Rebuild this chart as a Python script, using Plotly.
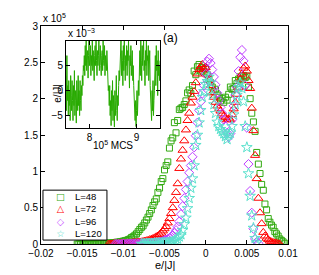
import plotly.graph_objects as go

# ---------------- data (main panel: histograms, y in units of 1e5) -------------
bin_width = 0.0002

l48_start = -0.0156
l48_counts = [
    0.00, 0.00, 0.00, 0.00, 0.00, 0.00, 0.00, 0.00, 0.00, 0.00,
    0.005, 0.00, 0.005, 0.005, 0.005, 0.01, 0.005, 0.01, 0.01, 0.01,
    0.015, 0.015, 0.02, 0.02, 0.025, 0.025, 0.03, 0.035, 0.04, 0.045,
    0.05, 0.06, 0.07, 0.09, 0.10, 0.12, 0.14, 0.17, 0.20, 0.23,
    0.25, 0.29, 0.33, 0.37, 0.42, 0.47, 0.53, 0.58, 0.62, 0.71,
    0.77, 0.86, 0.90, 1.02, 1.08, 1.13, 1.32, 1.42, 1.46, 1.67,
    1.53, 1.70, 1.85, 1.87, 1.88, 1.92, 1.97, 2.08, 2.12, 2.07,
    2.18, 2.38, 2.33, 2.44, 2.47, 2.38, 2.43, 2.37, 2.41, 2.33,
    2.28, 2.22, 2.16, 2.10, 2.13, 2.05, 2.02, 1.97, 2.00, 1.95,
    2.02, 1.98, 2.06, 2.16, 2.13, 2.14, 2.25, 2.21, 2.27, 2.30,
    2.26, 2.32, 2.29, 2.31, 2.16, 2.00, 1.80, 1.68, 1.55, 1.26,
    1.10, 0.97, 0.82, 0.74, 0.55, 0.47, 0.35, 0.30, 0.26, 0.23,
    0.17, 0.14, 0.11, 0.07, 0.05, 0.03, 0.01,
]

l72_start = -0.0118
l72_counts = [
    0.00, 0.00, 0.00, 0.005, 0.005, 0.005, 0.005, 0.01, 0.01, 0.01,
    0.01, 0.01, 0.015, 0.015, 0.015, 0.02, 0.02, 0.02, 0.025, 0.025,
    0.03, 0.035, 0.04, 0.045, 0.05, 0.06, 0.065, 0.075, 0.085, 0.10,
    0.11, 0.13, 0.15, 0.18, 0.21, 0.24, 0.29, 0.35, 0.42, 0.50,
    0.60, 0.71, 0.83, 1.04, 1.17, 1.29, 1.42, 1.57, 1.70, 1.80,
    1.94, 2.02, 2.10, 2.22, 2.34, 2.40, 2.44, 2.47, 2.41, 2.43,
    2.33, 2.25, 2.18, 2.08, 2.02, 1.95, 1.90, 1.86, 1.83, 1.79,
    1.76, 1.74, 1.71, 1.72, 1.71, 1.78, 1.86, 1.95, 2.06, 2.15,
    2.27, 2.34, 2.42, 2.45, 2.38, 2.25, 2.14, 1.87, 1.56, 1.22,
    0.90, 0.63, 0.43, 0.28, 0.16, 0.11, 0.08, 0.06, 0.04, 0.03,
    0.02, 0.015, 0.01, 0.005, 0.00,
]

l96_start = -0.0110
l96_counts = [
    0.00, 0.00, 0.00, 0.00, 0.00, 0.005, 0.00, 0.005, 0.005, 0.005,
    0.005, 0.005, 0.005, 0.01, 0.005, 0.01, 0.01, 0.01, 0.01, 0.01,
    0.015, 0.015, 0.015, 0.02, 0.02, 0.02, 0.025, 0.03, 0.035, 0.04,
    0.05, 0.06, 0.07, 0.08, 0.10, 0.12, 0.15, 0.19, 0.24, 0.31,
    0.41, 0.52, 0.63, 0.75, 0.86, 0.98, 1.08, 1.20, 1.33, 1.49,
    1.67, 1.84, 1.96, 2.07, 2.18, 2.34, 2.51, 2.55, 2.49, 2.40,
    2.30, 2.19, 2.08, 1.98, 1.88, 1.80, 1.71, 1.62, 1.53, 1.47,
    1.52, 1.71, 1.90, 2.05, 2.16, 2.38, 2.57, 2.67, 2.52, 2.18,
    1.60, 1.10, 0.73, 0.43, 0.21, 0.07, 0.03, 0.01,
]

l120_start = -0.0078
l120_counts = [
    0.00, 0.00, 0.00, 0.005, 0.005, 0.005, 0.005, 0.005, 0.01, 0.01,
    0.01, 0.01, 0.01, 0.015, 0.015, 0.015, 0.02, 0.02, 0.025, 0.03,
    0.04, 0.05, 0.07, 0.10, 0.13, 0.19, 0.27, 0.36, 0.49, 0.63,
    0.77, 0.90, 1.08, 1.36, 1.50, 1.67, 1.84, 2.02, 2.10, 2.20,
    2.24, 2.30, 2.22, 2.05, 1.92, 1.80, 1.68, 1.62, 1.58, 1.55,
    1.52, 1.48, 1.44, 1.50, 1.53, 1.62, 1.78, 1.92, 2.05, 2.16,
    2.22, 2.14, 1.96, 1.62, 1.33, 0.97, 0.66, 0.39, 0.22, 0.08,
    0.02,
]

series_names = ["L=48", "L=72", "L=96", "L=120"]

x_tick_vals = [-0.02, -0.015, -0.01, -0.005, 0, 0.005, 0.01]
x_tick_text = ["\u22120.02", "\u22120.015", "\u22120.01", "\u22120.005", "0", "0.005", "0.01"]
y_tick_vals = [0, 0.5, 1, 1.5, 2, 2.5, 3]
y_tick_text = ["0", "0.5", "1", "1.5", "2", "2.5", "3"]

# ---------------- data (inset: time series, e/|J| in units of 1e-3) -------------
inset_t_start = 7.5     # 10^5 MCS
inset_t_step = 0.01
inset_e = [
    3, -4, 7, -2, 1, -5, 2, -3, 0, -6, 3, -1, -4, 2, -2, -6, 1, -3, 4, -5,
    0, -2, -6.5, 2, -1, -4, 3, -3, 0, -5, 2, -2, -4, 1, -1,
    3, 1, 5, 4,
    7, 3, 9, 5, 10, 4, 6, 8, 2.5, 7, 10, 5, 6, 9, 3, 7, 5, 10, 4, 8,
    6, 2, 7, 9, 5, 10, 6, 3, 8, 5, 7, 10, 4, 6, 9, 5, 3, 7, 8, 4,
    10, 6, 5, 9, 3, 7, 6, 4, 8,
    3, 5, 0, 1,
    -3, 1, -5, -2, -7, 0, -4, 2, -6, -1, -3, -7.3, 0, -5, -2, 3, -4, -6, -1, -3, 1,
    4, 2, 7,
    5, 10, 3, 8, 6, 1, 9, 4, 10, 6, 2, 7, 5, 9, 3, 8, 6, 10, 4, 0.5,
    7, 5, 9, 3, 6, 8, 2, 5,
    1, -3, -1, -6, -2, -7.2, -4, 0, -5, -3, 2, -1,
    4, 8, 3, 10, 6, 2, 9, 5, 7, 10, 4, 6, 1, 8, 5, 10, 3, 7, 6, 9, 2, 5, 8,
    1, -3, -1, -6, 0, -4, 2, -5, -2, 0,
    3, 7, 1, 9, 4, 6, -1, 8, 3, 5, 2, 6,
]
inset_x_ticks = [8, 9]
inset_y_ticks = [-5, 0, 5]
inset_y_text = ["\u22125", "0", "5"]

# ---------------- figure -------------
FONT = "Liberation Sans, Arial, sans-serif"
colors = ["rgb(51,170,17)", "rgb(255,0,0)", "rgb(191,64,255)", "rgb(90,225,205)"]
symbols = ["square-open", "triangle-up-open", "diamond-open", "star-open"]
legend_glyphs = ["\u25a1", "\u25b3", "\u25c7", "\u2606"]
sizes = [6, 8, 7, 8]
starts = [l48_start, l72_start, l96_start, l120_start]
counts = [l48_counts, l72_counts, l96_counts, l120_counts]

fig = go.Figure()
for name, c, s, sz, x0, y in zip(series_names, colors, symbols, sizes, starts, counts):
    fig.add_trace(go.Scatter(
        x0=x0, dx=bin_width, y=y, mode="markers", name=name,
        marker=dict(symbol=s, size=sz, color=c, line=dict(width=1, color=c)),
        xaxis="x", yaxis="y", cliponaxis=True, showlegend=False,
    ))

fig.add_trace(go.Scatter(
    x0=inset_t_start, dx=inset_t_step, y=inset_e, mode="lines",
    line=dict(color="rgb(40,170,0)", width=1), showlegend=False,
    xaxis="x2", yaxis="y2",
))

axis_common = dict(showline=True, linecolor="black", linewidth=1, mirror="allticks",
                   ticks="inside", ticklen=4, tickcolor="black", showgrid=False,
                   zeroline=False, tickfont=dict(family=FONT, size=10, color="black"))

# the page body adds an 8px offset, so the figure is sized 8px smaller
fig.update_layout(
    width=311, height=267,
    margin=dict(l=33, r=31, t=13, b=31),
    paper_bgcolor="white", plot_bgcolor="white",
    font=dict(family=FONT, size=10, color="black"),
    xaxis=dict(domain=[0, 1], range=[-0.02, 0.01], tickvals=x_tick_vals,
               ticktext=x_tick_text, anchor="y", **axis_common),
    yaxis=dict(domain=[0, 1], range=[0, 3], tickvals=y_tick_vals,
               ticktext=y_tick_text, anchor="x", **axis_common),
    xaxis2=dict(domain=[0.101, 0.482], range=[7.5, 9.5], tickvals=inset_x_ticks,
                anchor="y2", **axis_common),
    yaxis2=dict(domain=[0.534, 0.933], range=[-7.4, 10], tickvals=inset_y_ticks,
                ticktext=inset_y_text, anchor="x2", **axis_common),
    showlegend=False,
)

fig.add_shape(type="rect", xref="x2 domain", yref="y2 domain", x0=0, x1=1, y0=0, y1=1,
              fillcolor="white", line=dict(width=0), layer="below")

# legend box (drawn by hand so its rows can be as tight as in the reference)
fig.add_shape(type="rect", xref="paper", yref="paper", x0=0.008, x1=0.267, y0=0.018, y1=0.247,
              fillcolor="white", line=dict(color="black", width=1), layer="above")
glyph_text = "<br>".join(f"<span style='color:{c}'>{g}</span>"
                         for c, g in zip(colors, legend_glyphs))
fig.add_annotation(text=glyph_text, x=0.077, y=0.131, xref="paper", yref="paper",
                   xanchor="center", yanchor="middle", align="center", showarrow=False,
                   font=dict(family="DejaVu Sans", size=9.5, color="black"))
fig.add_annotation(text="<br>".join(series_names), x=0.13, y=0.131, xref="paper", yref="paper",
                   xanchor="left", yanchor="middle", align="left", showarrow=False,
                   font=dict(family=FONT, size=9.5, color="black"))

ann = [
    dict(text="e/|J|", x=0.5, y=0, yanchor="top", yshift=-13, size=11),
    dict(text="x 10<sup>5</sup>", x=0.0, y=1.0, xanchor="left", yanchor="bottom", yshift=0, size=10),
    dict(text="(a)", x=0.526, y=0.946, size=12),
    dict(text="10<sup>5</sup> MCS", x=0.291, y=0.452, size=10),
    dict(text="x 10<sup>\u22123</sup>", x=0.101, y=0.933, xanchor="left", yanchor="bottom", size=10),
]
for a in ann:
    fig.add_annotation(text=a["text"], x=a["x"], y=a["y"], xref="paper", yref="paper",
                       xanchor=a.get("xanchor", "center"), yanchor=a.get("yanchor", "middle"),
                       yshift=a.get("yshift", 0), showarrow=False,
                       font=dict(family=FONT, size=a["size"], color="black"))
fig.add_annotation(text="e/|J|", x=0.036, y=0.744, xref="paper", yref="paper", textangle=-90,
                   showarrow=False, font=dict(family=FONT, size=10, color="black"))

fig.write_html("out.html")
